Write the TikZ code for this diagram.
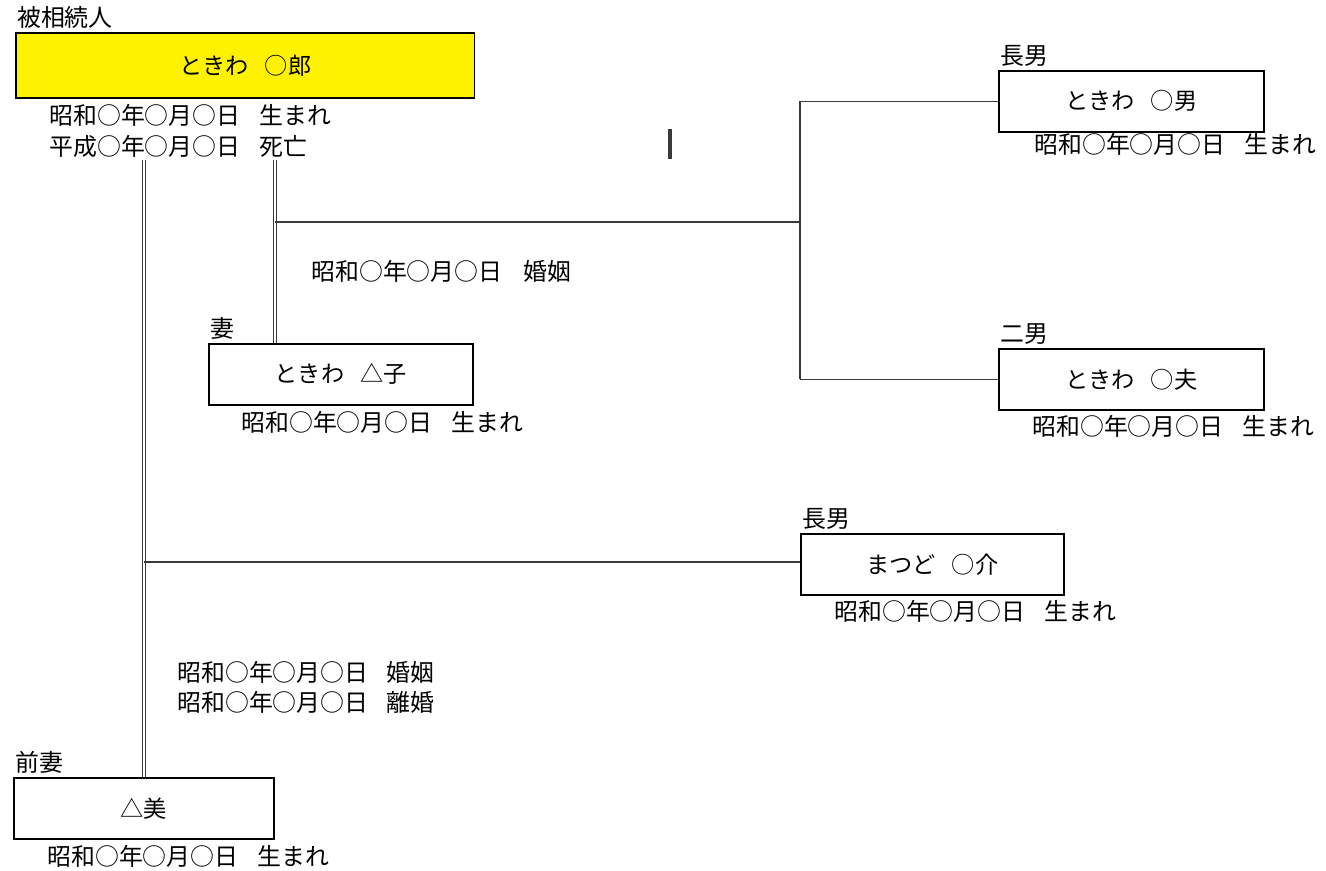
\documentclass[tikz,border=0pt]{standalone}
\usepackage{fontspec}
\setmainfont{Noto Sans CJK JP}
\usetikzlibrary{positioning}
\usepackage{xcolor}
\definecolor{deceased}{HTML}{FFF200}
\definecolor{linegray}{HTML}{3A3A3A}
\newcommand{\jgap}[1][0.8em]{\hspace{#1}}

\begin{document}
\begin{tikzpicture}[x=0.02cm, y=-0.02cm,
      person/.style={rectangle, draw=black, line width=0.9pt, fill=white, minimum width=5.3cm, minimum height=1.22cm, anchor=north west, inner sep=0pt, font=\fontsize{13.2}{16}\selectfont},
      role/.style={anchor=south west, inner sep=0pt, yshift=2pt, xshift=1pt, font=\fontsize{13.6}{16}\selectfont},
      dates/.style={anchor=north west, align=left, inner sep=0pt, font=\fontsize{13.6}{17.5}\selectfont},
      kin/.style={draw=linegray, line width=0.8pt},
      wed/.style={draw=linegray, double=white, double distance=1pt, line width=0.7pt},
    ]
    \useasboundingbox (0,0) rectangle (1326,870);

    % persons
    \node[person, fill=deceased, minimum width=9.18cm, minimum height=1.3cm] (taro) at (15,32) {ときわ\jgap[0.7em]○郎};
    \node[person, minimum width=5.28cm] (wife) at (208,343) {ときわ\jgap[0.7em]△子};
    \node[person] (son1) at (998,70) {ときわ\jgap[0.7em]○男};
    \node[person] (son2) at (998,348) {ときわ\jgap[0.7em]○夫};
    \node[person, minimum width=5.26cm] (sonm) at (800,533) {まつど\jgap[0.7em]○介};
    \node[person, minimum width=5.2cm] (exwife) at (13,777) {△美};

    % roles
    \node[role] (taror) at (taro.north west) {被相続人};
    \node[role] (wifer) at (wife.north west) {妻};
    \node[role] (son1r) at (son1.north west) {長男};
    \node[role] (son2r) at (son2.north west) {二男};
    \node[role] (sonmr) at (sonm.north west) {長男};
    \node[role] (exwifer) at (exwife.north west) {前妻};

    % dates
    \node[dates, font=\fontsize{13.6}{17.6}\selectfont] (tarod) at (49,104) {昭和○年○月○日\jgap 生まれ\\平成○年○月○日\jgap 死亡};
    \node[dates] (wifed) at (241,411) {昭和○年○月○日\jgap 生まれ};
    \node[dates] (son1d) at (1034,133) {昭和○年○月○日\jgap 生まれ};
    \node[dates] (son2d) at (1032,415) {昭和○年○月○日\jgap 生まれ};
    \node[dates] (sonmd) at (834,600) {昭和○年○月○日\jgap 生まれ};
    \node[dates] (exwifed) at (47,845) {昭和○年○月○日\jgap 生まれ};
    \node[dates] (wedd) at (311,260) {昭和○年○月○日\jgap[0.9em]婚姻};
    \node[dates, font=\fontsize{13.6}{17}\selectfont] (exwedd) at (177,661) {昭和○年○月○日\jgap[0.75em]婚姻\\昭和○年○月○日\jgap[0.75em]離婚};

    % junctions
    \coordinate (extop) at (144,160);
    \coordinate (wifetop) at (275,160);
    \coordinate (wedjoin) at (275,222);
    \coordinate (sibjoin) at (800,222);
    \coordinate (exjoin) at (144,562);

    % marriages
    \draw[wed] (extop) -- (extop |- exwife.north);
    \draw[wed] (wifetop) -- (wifetop |- wife.north);

    % children
    \draw[kin] (wedjoin) -- (sibjoin);
    \draw[kin] (sibjoin |- son1.west) -- (sibjoin |- son2.west);
    \draw[kin] (sibjoin |- son1.west) -- (son1.west);
    \draw[kin] (sibjoin |- son2.west) -- (son2.west);
    \draw[kin] (exjoin) -- (exjoin -| sonm.west);

    % stray mark
    \draw[draw=linegray, line width=2pt] (670,129) -- (670,159);
  \end{tikzpicture}
\end{document}
